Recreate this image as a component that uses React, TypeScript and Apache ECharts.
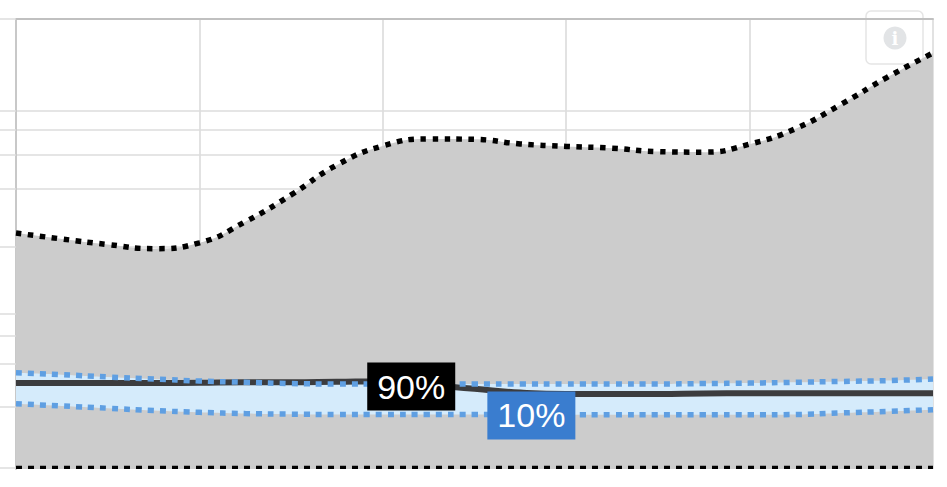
import React, { useEffect, useRef } from "react";
import * as echarts from "echarts";

const xValues = [0, 0.5, 1, 1.5, 2, 2.5, 3, 3.5, 4, 4.5, 5, 5.5, 6, 6.5, 7, 7.5, 8, 8.5, 9, 9.5, 10];
const upperGray = [118, 110, 103, 98, 105, 135, 186, 266, 334, 363, 361, 342, 332, 325, 312, 310, 341, 410, 549, 757, 1012];
const median = [19.7, 19.7, 19.7, 19.7, 19.8, 19.9, 19.9, 20, 20.1, 19.3, 18.4, 17.6, 17.3, 17.3, 17.3, 17.4, 17.45, 17.45, 17.45, 17.45, 17.45];
const upperBlue = [22.3, 21.8, 21.2, 20.7, 20.2, 19.9, 19.6, 19.5, 19.5, 19.5, 19.5, 19.5, 19.5, 19.5, 19.5, 19.6, 19.7, 19.9, 20.1, 20.3, 20.7];
const lowerBlue = [15.4, 15.0, 14.6, 14.2, 13.9, 13.7, 13.6, 13.55, 13.55, 13.55, 13.55, 13.55, 13.5, 13.5, 13.5, 13.5, 13.5, 13.55, 13.8, 14.05, 14.35];
const lowerGray = xValues.map(() => 7.2);
const gridValues = [505, 403, 302, 200, 100, 45, 34.6, 24.8, 14.8, 7.16];
const tickValues = [1518, ...gridValues];
const labels = [
  { text: "90%", x: 4.31, y: 18.9, color: "#000000" },
  { text: "10%", x: 5.62, y: 13.4, color: "#3a7dcf" },
];

const pairs = (ys: number[]) => xValues.map((x, i) => [x, ys[i]]);
const GRAY = "#cccccc";
const BLUE = "#5f9fe2";
const SMOOTH = 0.5;

export default function App() {
  const ref = useRef<HTMLDivElement>(null);
  useEffect(() => {
    document.body.style.margin = "0";
    const chart = echarts.init(ref.current!, undefined, { renderer: "svg" });
    chart.setOption({
      animation: false,
      backgroundColor: "#ffffff",
      grid: { left: 16, right: 14, top: 19, bottom: 18 },
      xAxis: {
        type: "value",
        position: "top",
        min: 0,
        max: 10,
        interval: 2,
        axisLabel: { show: false },
        axisTick: { show: false },
        axisLine: { show: true, lineStyle: { color: "#c0c0c0", width: 2 } },
        splitLine: { show: true, lineStyle: { color: "#d8d8d8", width: 1.5 } },
      },
      yAxis: {
        type: "log",
        min: 7.07,
        max: 1518,
        axisLabel: { show: false },
        axisLine: { show: true, lineStyle: { color: "#c8c8c8", width: 2 } },
        axisTick: { show: true, length: 16, customValues: tickValues, lineStyle: { color: "#dcdcdc", width: 1.5 } },
        splitLine: { show: false },
      },
      series: [
        {
          type: "line",
          silent: true,
          z: 1,
          data: [],
          markLine: {
            silent: true,
            z: 0,
            symbol: "none",
            label: { show: false },
            animation: false,
            lineStyle: { color: "#dcdcdc", width: 1.5, type: "solid" },
            data: gridValues.map((v) => ({ yAxis: v })),
          },
        },
        {
          type: "line",
          z: 2,
          data: pairs(upperGray),
          smooth: SMOOTH,
          showSymbol: false,
          lineStyle: { color: "#000000", width: 5.5, type: [5.5, 6.5] },
          areaStyle: { color: GRAY, opacity: 1, origin: "start" },
        },
        {
          type: "line",
          z: 3,
          data: pairs(upperBlue),
          smooth: SMOOTH,
          showSymbol: false,
          lineStyle: { width: 0 },
          areaStyle: { color: "#d5ebfb", opacity: 1, origin: "start" },
        },
        {
          type: "line",
          z: 4,
          data: pairs(lowerBlue),
          smooth: SMOOTH,
          showSymbol: false,
          lineStyle: { width: 0 },
          areaStyle: { color: GRAY, opacity: 1, origin: "start" },
        },
        {
          type: "line",
          z: 5,
          data: pairs(median),
          smooth: SMOOTH,
          showSymbol: false,
          lineStyle: { color: "#3c3c3e", width: 6 },
        },
        {
          type: "line",
          z: 6,
          data: pairs(upperBlue),
          smooth: SMOOTH,
          showSymbol: false,
          lineStyle: { color: BLUE, width: 5.5, type: [6, 6] },
        },
        {
          type: "line",
          z: 6,
          data: pairs(lowerBlue),
          smooth: SMOOTH,
          showSymbol: false,
          lineStyle: { color: BLUE, width: 5.5, type: [6, 6] },
        },
        {
          type: "line",
          z: 7,
          data: pairs(lowerGray),
          showSymbol: false,
          lineStyle: { color: "#000000", width: 3.2, type: [6, 6] },
          markPoint: {
            silent: true,
            symbol: "circle",
            symbolSize: 0,
            z: 20,
            data: labels.map((l) => ({
              coord: [l.x, l.y],
              label: {
                show: true,
                position: "inside",
                formatter: l.text,
                color: "#ffffff",
                fontFamily: "Liberation Sans",
                fontSize: 34,
                width: 88,
                height: 48,
                lineHeight: 48,
                align: "center",
                verticalAlign: "middle",
                backgroundColor: l.color,
              },
            })),
          },
        },
      ],
      graphic: [
        {
          type: "group",
          z: 100,
          children: [
            {
              type: "rect",
              shape: { x: 866, y: 11, width: 57, height: 53, r: 5 },
              style: { fill: "rgba(255,255,255,0.25)", stroke: "rgba(226,226,226,0.9)", lineWidth: 1.5 },
            },
            { type: "circle", shape: { cx: 895, cy: 38, r: 11.5 }, style: { fill: "#e2e4e6" } },
            {
              type: "text",
              x: 895,
              y: 38,
              style: {
                text: "i",
                fill: "#ffffff",
                font: "bold 18px 'DejaVu Serif'",
                align: "center",
                verticalAlign: "middle",
              },
            },
          ],
        },
      ],
    });
    return () => chart.dispose();
  }, []);
  return <div ref={ref} style={{ width: 947, height: 487 }} />;
}
